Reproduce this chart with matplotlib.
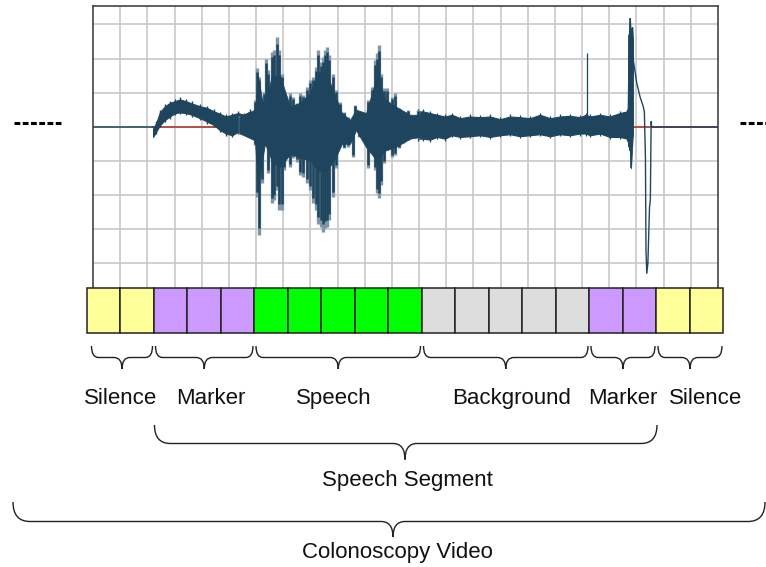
import matplotlib
matplotlib.use("Agg")
import matplotlib.pyplot as plt
from matplotlib.path import Path
from matplotlib.patches import PathPatch, Rectangle

plt.rcParams['font.family'] = ['Liberation Sans', 'DejaVu Sans']

# ---------------- data ----------------
# waveform x in grid columns (0..23), amplitude in grid rows (baseline 0)
silence_start_x = [0.0, 2.21]
silence_end_x = [20.56, 23.0]

hump_x = [2.21, 2.32, 2.47, 2.65, 2.83, 3.02, 3.20, 3.42, 3.64, 3.94, 4.20,
          4.45, 4.67, 4.89, 5.12, 5.34, 5.56, 5.78, 5.89]
hump_top = [-0.05, 0.10, 0.44, 0.60, 0.70, 0.75, 0.80, 0.75, 0.68, 0.60, 0.55,
            0.45, 0.38, 0.30, 0.35, 0.40, 0.35, 0.45, 0.30]
hump_bot = [-0.30, -0.15, 0.05, 0.20, 0.30, 0.40, 0.42, 0.40, 0.35, 0.25, 0.15,
            0.05, -0.10, -0.20, -0.25, -0.15, -0.10, -0.15, -0.20]

speech_x = [5.41, 5.67, 5.89, 5.96, 6.05, 6.11, 6.21, 6.29, 6.37, 6.44, 6.58,
            6.67, 6.77, 6.86, 6.95, 7.03, 7.13, 7.25, 7.37, 7.50, 7.62, 7.74,
            7.87, 7.99, 8.09, 8.21, 8.29, 8.38, 8.45, 8.54, 8.60, 8.70, 8.82,
            8.94, 9.09, 9.24, 9.40, 9.56, 9.64, 9.80, 9.97, 10.11, 10.26,
            10.38, 10.44, 10.52, 10.59, 10.71, 10.83, 10.99, 11.12, 11.27,
            11.42, 11.60, 11.79, 11.97]
speech_top = [0.30, 0.32, 0.30, 0.78, 1.72, 1.47, 0.59, 1.03, 2.00, 1.66, 2.20,
              2.25, 2.62, 2.25, 1.56, 0.98, 0.69, 0.98, 0.88, 0.69, 0.98, 0.93,
              1.17, 1.37, 1.47, 1.76, 2.25, 1.91, 2.05, 2.25, 2.35, 2.10, 1.56,
              1.08, 0.73, 0.44, 0.29, 0.15, 0.64, 0.44, 0.39, 0.78, 1.17, 1.96,
              2.15, 2.40, 1.56, 1.13, 1.13, 0.88, 0.98, 0.55, 0.44, 0.49, 0.29,
              0.49]
speech_bot = [-0.20, -0.22, -0.20, -0.54, -2.05, -3.18, -1.66, -0.10, -0.40,
              -1.37, -2.25, -2.15, -1.86, -2.45, -2.45, -1.27, -0.88, -1.17,
              -0.93, -1.03, -1.42, -1.47, -1.66, -1.86, -2.25, -2.45, -2.84,
              -2.93, -3.08, -2.98, -2.93, -2.74, -2.05, -1.22, -0.49, -0.63,
              -0.59, -0.88, -0.10, -0.29, -0.39, -1.22, -0.68, -1.27, -1.95,
              -2.10, -1.71, -1.07, -0.68, -0.88, -0.83, -0.63, -0.49, -0.39,
              -0.29, -0.34]

core_x = [5.41, 5.96, 6.07, 6.22, 6.33, 6.58, 6.88, 7.25, 7.62, 7.99, 8.28,
          8.57, 8.87, 9.16, 9.46, 9.68, 10.05, 10.45, 10.75, 11.12, 11.67, 12.03]
core_top = [0.30, 0.50, 1.50, 0.80, 0.60, 1.50, 1.50, 0.60, 0.70, 1.00, 1.60,
            1.60, 1.00, 0.40, 0.20, 0.50, 0.40, 1.50, 0.80, 0.60, 0.35, 0.35]
core_bot = [-0.20, -0.40, -1.80, -1.00, -0.50, -1.00, -1.20, -0.80, -0.90,
            -1.00, -1.30, -1.30, -1.00, -0.50, -0.50, -0.10, -0.60, -1.00,
            -0.70, -0.60, -0.35, -0.30]

bg_x = [11.97, 12.14, 12.40, 12.66, 12.95, 13.21, 13.51, 13.87, 14.24, 14.61,
        14.98, 15.35, 15.71, 16.08, 16.45, 16.82, 17.18, 17.55, 17.92, 18.14,
        18.29, 18.66, 19.02, 19.39, 19.65]
bg_top = [0.45, 0.45, 0.40, 0.35, 0.30, 0.35, 0.25, 0.30, 0.28, 0.30, 0.22,
          0.30, 0.28, 0.25, 0.35, 0.25, 0.30, 0.32, 0.28, 0.35, 0.30, 0.35,
          0.30, 0.40, 0.45]
bg_bot = [-0.35, -0.35, -0.38, -0.30, -0.35, -0.25, -0.30, -0.28, -0.25, -0.30,
          -0.25, -0.22, -0.28, -0.25, -0.22, -0.28, -0.22, -0.25, -0.20, -0.20,
          -0.25, -0.20, -0.30, -0.30, -0.35]

spike_x = [18.17]
spike_top = [2.16]

burst_x = [19.67, 19.71, 19.76, 19.80, 19.84, 19.86]
burst_top = [0.50, 2.70, 3.18, 2.70, 2.90, 2.60]
burst_bot = [-0.40, -0.60, -0.70, -1.22, -0.60, -0.30]

tail_x = [19.86, 19.88, 20.01, 20.13, 20.25, 20.29, 20.33, 20.35, 20.38, 20.42,
          20.48, 20.51, 20.54, 20.56]
tail_y = [2.90, 1.96, 1.28, 0.88, 0.59, 0.44, -0.93, -3.62, -4.30, -4.00,
          -2.36, -2.15, 0.15, 0.00]

# segment bar
cell_colors = (['#ffff99'] * 2 + ['#cc99ff'] * 3 + ['#00ff00'] * 5 +
               ['#dddddd'] * 5 + ['#cc99ff'] * 2 + ['#ffff99'] * 2)
seg_labels = ['Silence', 'Marker', 'Speech', 'Background', 'Marker', 'Silence']
seg_cells = [(0, 2), (2, 5), (5, 10), (10, 15), (15, 17), (17, 19)]
seg_label_x = [121, 211, 334, 512, 623, 706]
group_labels = ['Speech Segment', 'Colonoscopy Video']

# ---------------- figure ----------------
W, H = 766, 567
fig = plt.figure(figsize=(W / 100, H / 100), dpi=100)

ax_l, ax_r, ax_t, ax_b = 93, 718, 6, 288
ax = fig.add_axes([ax_l / W, 1 - ax_b / H, (ax_r - ax_l) / W, (ax_b - ax_t) / H])
ax.set_xlim(0, 23)
ax.set_ylim(-4.73, 3.54)
ax.set_xticks(range(1, 23))
ax.set_yticks(range(-4, 4))
ax.tick_params(length=0, labelbottom=False, labelleft=False)
ax.grid(True, color='#c8c8c8', lw=1.2)
ax.set_axisbelow(True)
for s in ['left', 'top', 'right']:
    ax.spines[s].set_color('#444444')
    ax.spines[s].set_linewidth(1.2)
ax.spines['bottom'].set_visible(False)

dark = '#1f455e'
light = '#7f97a8'
red = '#b03a30'

ax.plot([hump_x[0], 23], [0, 0], color=red, lw=1.2, zorder=2)
ax.plot(silence_start_x, [0, 0], color=dark, lw=1.1, zorder=3)
ax.plot(silence_end_x, [0, 0], color=dark, lw=1.1, zorder=3)

ax.fill_between(hump_x, hump_bot, hump_top, color=dark, lw=0.8, zorder=3)
ax.vlines(hump_x[1:], [b - 0.06 for b in hump_bot[1:]],
          [t + 0.06 for t in hump_top[1:]], color=dark, lw=1.0, zorder=3)
ax.fill_between(bg_x, bg_bot, bg_top, color=dark, lw=0.8, zorder=3)
ax.vlines(bg_x, [b - 0.06 for b in bg_bot], [t + 0.06 for t in bg_top],
          color=dark, lw=0.9, zorder=3)
# speech: light outer spikes, dark body
ax.vlines(speech_x, speech_bot, speech_top, color=light, lw=2.4, zorder=3)
ax.vlines(speech_x, [b * 0.93 for b in speech_bot],
          [t * 0.93 for t in speech_top], color=dark, lw=1.8, zorder=3)
ax.fill_between(core_x, core_bot, core_top, color=dark, lw=0.6, zorder=3)
ax.vlines(spike_x, [0] * len(spike_x), spike_top, color=dark, lw=0.9, zorder=3)
ax.fill_between(burst_x, burst_bot, burst_top, color=dark, lw=0.6, zorder=3)
ax.vlines(burst_x, burst_bot, burst_top, color=dark, lw=1.2, zorder=3)
ax.plot(tail_x, tail_y, color=dark, lw=1.0, zorder=3)

# ---------------- overlay (pixel coordinates) ----------------
ov = fig.add_axes([0, 0, 1, 1], zorder=5)
ov.set_xlim(0, W)
ov.set_ylim(H, 0)
ov.axis('off')

cell_x0, cell_x1, cell_top, cell_bot = 86.5, 723.0, 288.0, 332.5
cw = (cell_x1 - cell_x0) / len(cell_colors)
for i, c in enumerate(cell_colors):
    ov.add_patch(Rectangle((cell_x0 + i * cw, cell_top), cw, cell_bot - cell_top,
                           facecolor=c, edgecolor='#222222', lw=1.1))


def brace(x0, x1, ytop, yh, ytip, r, tw, xm=None):
    if xm is None:
        xm = (x0 + x1) / 2
    verts = [(x0, ytop), (x0, yh), (x0 + r, yh),
             (xm - tw, yh), (xm, yh), (xm, ytip),
             (xm, yh), (xm + tw, yh),
             (x1 - r, yh), (x1, yh), (x1, ytop)]
    codes = [Path.MOVETO, Path.CURVE3, Path.CURVE3,
             Path.LINETO, Path.CURVE3, Path.CURVE3,
             Path.CURVE3, Path.CURVE3,
             Path.LINETO, Path.CURVE3, Path.CURVE3]
    ov.add_patch(PathPatch(Path(verts, codes), facecolor='none',
                           edgecolor='#222222', lw=1.0))


for (a, b), lab, lx in zip(seg_cells, seg_labels, seg_label_x):
    x0 = cell_x0 + a * cw + (5 if a == 0 else 2)
    x1 = cell_x0 + b * cw - 1
    brace(x0, x1, 346, 357.5, 369, 7, 8)
    ov.text(lx, 404, lab, ha='center', va='baseline', fontsize=16, color='#111111')

brace(154.5, 657, 425, 443.5, 459.5, 16, 12, xm=405)
ov.text(407.5, 486, group_labels[0], ha='center', va='baseline', fontsize=16,
        color='#111111')
brace(13, 765, 502, 521.5, 537, 17, 12, xm=393)
ov.text(397, 558, group_labels[1], ha='center', va='baseline', fontsize=16,
        color='#111111')

# continuation dashes
ov.plot([14, 61], [122.5, 122.5], color='black', lw=2.2,
        dashes=(1.9, 0.8), solid_capstyle='butt', dash_capstyle='butt')
ov.plot([740, 800], [122.5, 122.5], color='black', lw=2.2,
        dashes=(1.9, 0.8), solid_capstyle='butt', dash_capstyle='butt',
        clip_on=False)

fig.savefig('out.png', dpi=100)
